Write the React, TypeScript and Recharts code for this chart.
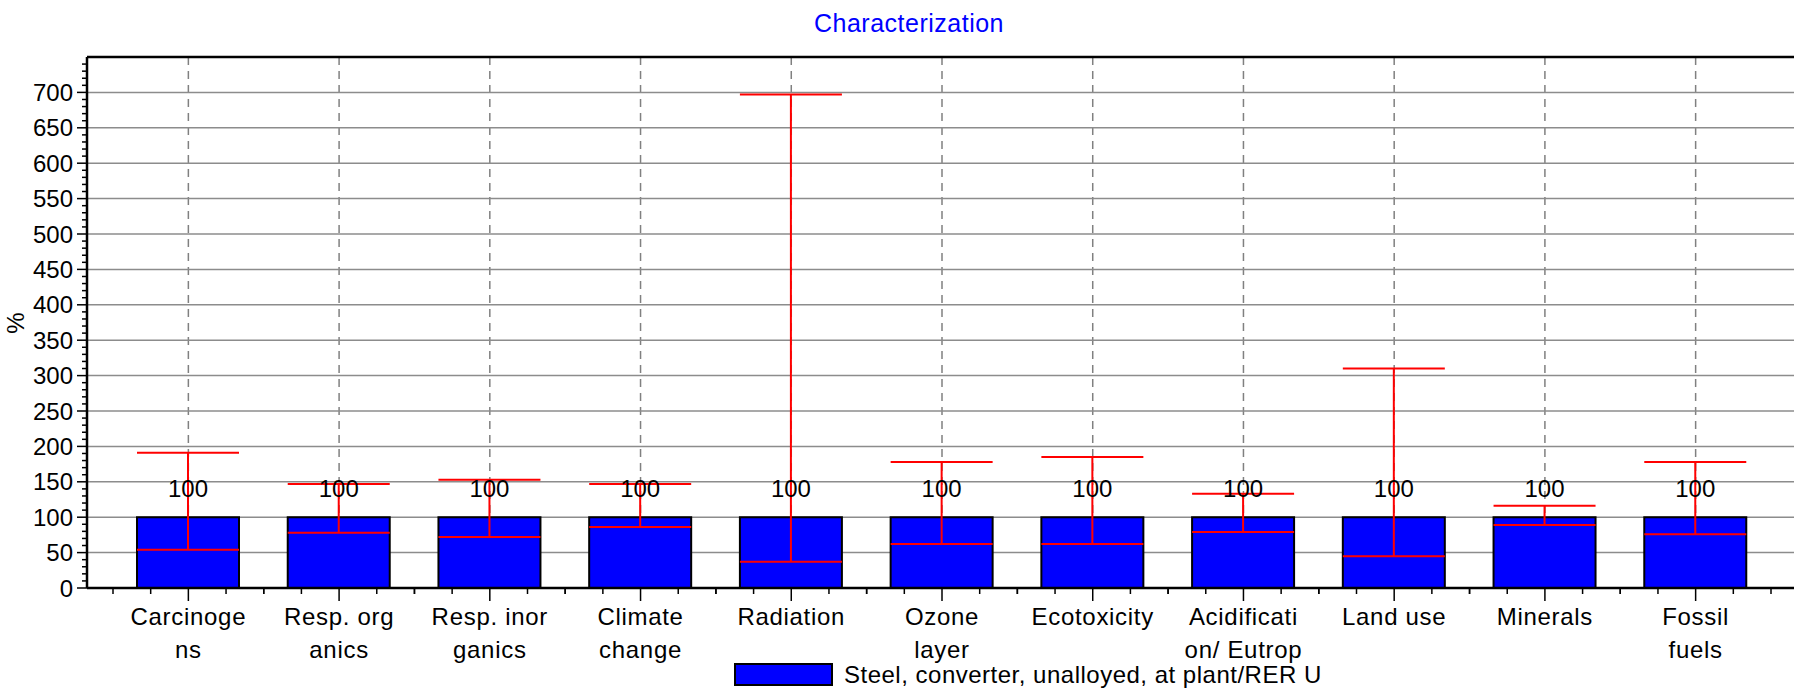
import React from 'react'
import {
  BarChart,
  Bar,
  XAxis,
  YAxis,
  CartesianGrid,
  ErrorBar,
  LabelList,
  ReferenceLine,
} from 'recharts'

const categories = [
  'Carcinogens',
  'Resp. organics',
  'Resp. inorganics',
  'Climate change',
  'Radiation',
  'Ozone layer',
  'Ecotoxicity',
  'Acidification/ Eutrophication',
  'Land use',
  'Minerals',
  'Fossil fuels',
]
const tickLabels = [
  ['Carcinoge', 'ns'],
  ['Resp. org', 'anics'],
  ['Resp. inor', 'ganics'],
  ['Climate', 'change'],
  ['Radiation'],
  ['Ozone', 'layer'],
  ['Ecotoxicity'],
  ['Acidificati', 'on/ Eutrop'],
  ['Land use'],
  ['Minerals'],
  ['Fossil', 'fuels'],
]
const values = [100, 100, 100, 100, 100, 100, 100, 100, 100, 100, 100]
const lowValues = [54, 78, 72, 86, 37, 62, 62, 79, 45, 89, 76]
const highValues = [191, 147, 153, 147, 697, 178, 185, 133, 310, 116, 178]
const yTicks = [0, 50, 100, 150, 200, 250, 300, 350, 400, 450, 500, 550, 600, 650, 700]
const minorSteps = [10, 20, 30, 40]

const seriesName = 'Steel, converter, unalloyed, at plant/RER U'

const FONT = '"Liberation Sans", Arial, sans-serif'
const W = 1800
const H = 689
const PLOT_LEFT = 87
const PLOT_TOP = 57
const MARGIN_RIGHT = 3
const X_AXIS_H = 101
const X_PAD = 26
const Y_MAX = 750
const BAND = (W - PLOT_LEFT - MARGIN_RIGHT - 2 * X_PAD) / categories.length
const PX_PER_UNIT = (H - PLOT_TOP - X_AXIS_H) / Y_MAX

const data = categories.map((name, i) => ({
  name,
  value: values[i],
  err: [values[i] - lowValues[i], highValues[i] - values[i]],
}))

const YTick = (props: any) => {
  const { x, y, payload } = props
  return (
    <g>
      <line x1={x - 10} x2={x} y1={y} y2={y} stroke="#000" strokeWidth={1.5} />
      {minorSteps.map((s) => (
        <line
          key={s}
          x1={x - 5}
          x2={x}
          y1={y - s * PX_PER_UNIT}
          y2={y - s * PX_PER_UNIT}
          stroke="#000"
          strokeWidth={1.5}
        />
      ))}
      <text x={x - 14} y={y} dy={8.5} textAnchor="end" fontSize={24} fill="#000" fontFamily={FONT}>
        {payload.value}
      </text>
    </g>
  )
}

const XTick = (props: any) => {
  const { x, y, payload } = props
  const idx = categories.indexOf(payload.value)
  const lines = tickLabels[idx] || []
  const minor = [-0.5, -0.25, 0.25, 0.5]
  return (
    <g>
      <line x1={x} x2={x} y1={y} y2={y + 13} stroke="#000" strokeWidth={1.5} />
      {minor.map((m) => (
        <line key={m} x1={x + m * BAND} x2={x + m * BAND} y1={y} y2={y + 6} stroke="#000" strokeWidth={1.5} />
      ))}
      {lines.map((t, i) => (
        <text
          key={i}
          x={x}
          y={y + 37 + i * 33}
          textAnchor="middle"
          fontSize={24}
          letterSpacing={0.7}
          fill="#000"
          fontFamily={FONT}
        >
          {t}
        </text>
      ))}
    </g>
  )
}

export default function App() {
  return (
    <div
      style={{
        position: 'absolute',
        left: 0,
        top: 0,
        width: 1794,
        height: H,
        overflow: 'hidden',
        background: '#fff',
        fontFamily: FONT,
      }}
    >
      <BarChart
        width={W}
        height={H}
        data={data}
        margin={{ top: PLOT_TOP, right: MARGIN_RIGHT, bottom: 0, left: 0 }}
        style={{ fontFamily: FONT }}
      >
        <CartesianGrid horizontal={false} stroke="#808080" strokeWidth={1.5} strokeDasharray="8 6" />
        <CartesianGrid vertical={false} stroke="#8c8c8c" strokeWidth={1.5} />
        <ReferenceLine y={Y_MAX} stroke="#000" strokeWidth={2.5} />
        <XAxis
          dataKey="name"
          height={X_AXIS_H}
          padding={{ left: X_PAD, right: X_PAD }}
          tickLine={false}
          tickSize={0}
          tickMargin={0}
          interval={0}
          axisLine={{ stroke: '#000', strokeWidth: 2.5 }}
          tick={<XTick />}
        />
        <YAxis
          width={PLOT_LEFT}
          domain={[0, Y_MAX]}
          ticks={yTicks}
          interval={0}
          tickLine={false}
          tickSize={0}
          tickMargin={0}
          axisLine={{ stroke: '#000', strokeWidth: 2.5 }}
          tick={<YTick />}
        />
        <Bar
          dataKey="value"
          fill="#0000ff"
          stroke="#000"
          strokeWidth={2}
          barSize={102}
          isAnimationActive={false}
        >
          <LabelList dataKey="value" position="top" offset={20} fontSize={24} fill="#000" fontFamily={FONT} />
          <ErrorBar
            dataKey="err"
            direction="y"
            width={51}
            stroke="#ff0000"
            strokeWidth={2}
            isAnimationActive={false}
          />
        </Bar>
      </BarChart>
      <svg
        width={1794}
        height={H}
        style={{ position: 'absolute', left: 0, top: 0, pointerEvents: 'none' }}
      >
        <text x={909} y={32} textAnchor="middle" fontSize={25} letterSpacing={0.5} fill="#0000ff" fontFamily={FONT}>
          Characterization
        </text>
        <text
          x={24}
          y={323}
          textAnchor="middle"
          fontSize={24}
          fill="#000"
          fontFamily={FONT}
          transform="rotate(-90 24 323)"
        >
          %
        </text>
        <rect x={735} y={664} width={97} height={21} fill="#0000ff" stroke="#000" strokeWidth={2} />
        <text x={844} y={683} fontSize={24} letterSpacing={0.5} fill="#000" fontFamily={FONT}>
          {seriesName}
        </text>
      </svg>
    </div>
  )
}
